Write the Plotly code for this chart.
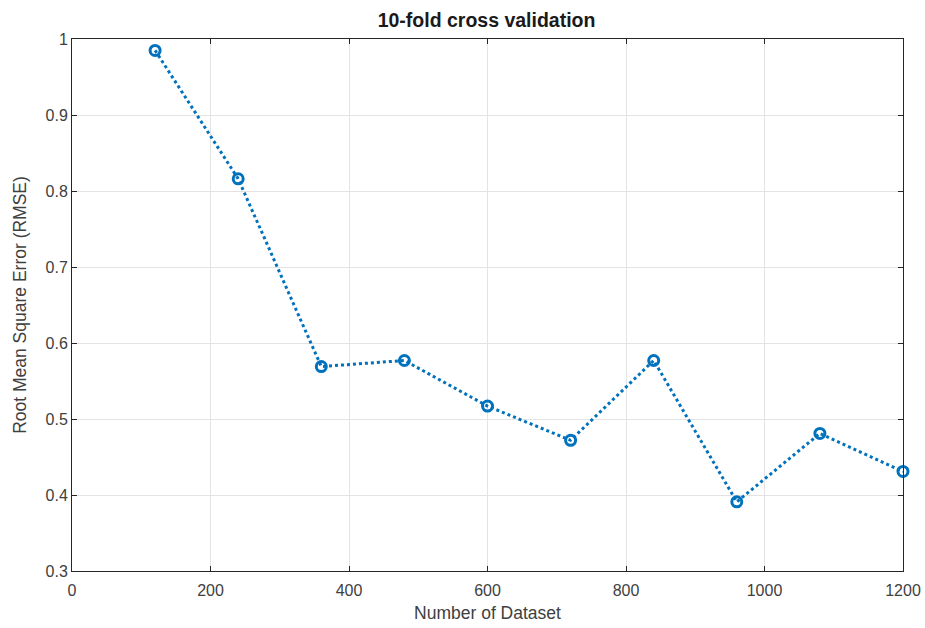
import plotly.graph_objects as go

dataset_sizes = [120, 240, 360, 480, 600, 720, 840, 960, 1080, 1200]
rmse_values = [0.985, 0.816, 0.569, 0.577, 0.517, 0.472, 0.577, 0.391, 0.481, 0.431]
x_ticks = [0, 200, 400, 600, 800, 1000, 1200]
y_ticks = [0.3, 0.4, 0.5, 0.6, 0.7, 0.8, 0.9, 1.0]
y_tick_labels = ["0.3", "0.4", "0.5", "0.6", "0.7", "0.8", "0.9", "1"]

FONT = "Liberation Sans, Arial, sans-serif"

fig = go.Figure()
fig.add_trace(go.Scatter(
    x=dataset_sizes, y=rmse_values, mode="lines+markers",
    line=dict(color="#0072BD", width=3, dash="dot"),
    marker=dict(symbol="circle-open", size=10, color="#0072BD", line=dict(width=3, color="#0072BD")),
    showlegend=False, cliponaxis=False,
))

axis_common = dict(
    showline=True, linecolor="#262626", linewidth=1, mirror="ticks",
    ticks="inside", ticklen=5, tickcolor="#262626",
    showgrid=True, gridcolor="#E3E3E3", gridwidth=1,
    zeroline=False, automargin=False,
    tickfont=dict(family=FONT, size=16, color="#404040"),
)

fig.update_xaxes(range=[0, 1200], tickvals=x_ticks, ticklabelstandoff=5,
                 title=dict(text="Number of Dataset", standoff=8,
                            font=dict(family=FONT, size=17.5, color="#404040")),
                 **axis_common)
fig.update_yaxes(range=[0.3, 1.0], tickvals=y_ticks, ticktext=y_tick_labels,
                 title=dict(text="Root Mean Square Error (RMSE)", standoff=14,
                            font=dict(family=FONT, size=17.5, color="#404040")),
                 **axis_common)

fig.update_layout(
    width=925, height=628,
    margin=dict(l=72, r=22, t=39, b=57),
    paper_bgcolor="white", plot_bgcolor="white",
    title=dict(text="<b>10-fold cross validation</b>", x=0.526, xanchor="center", y=0.968, yanchor="middle",
               font=dict(family=FONT, size=19.5, color="#1a1a1a")),
)

fig.write_html("out.html", config={"displayModeBar": False},
               post_script="document.body.style.margin='0';document.body.style.overflow='hidden';")
